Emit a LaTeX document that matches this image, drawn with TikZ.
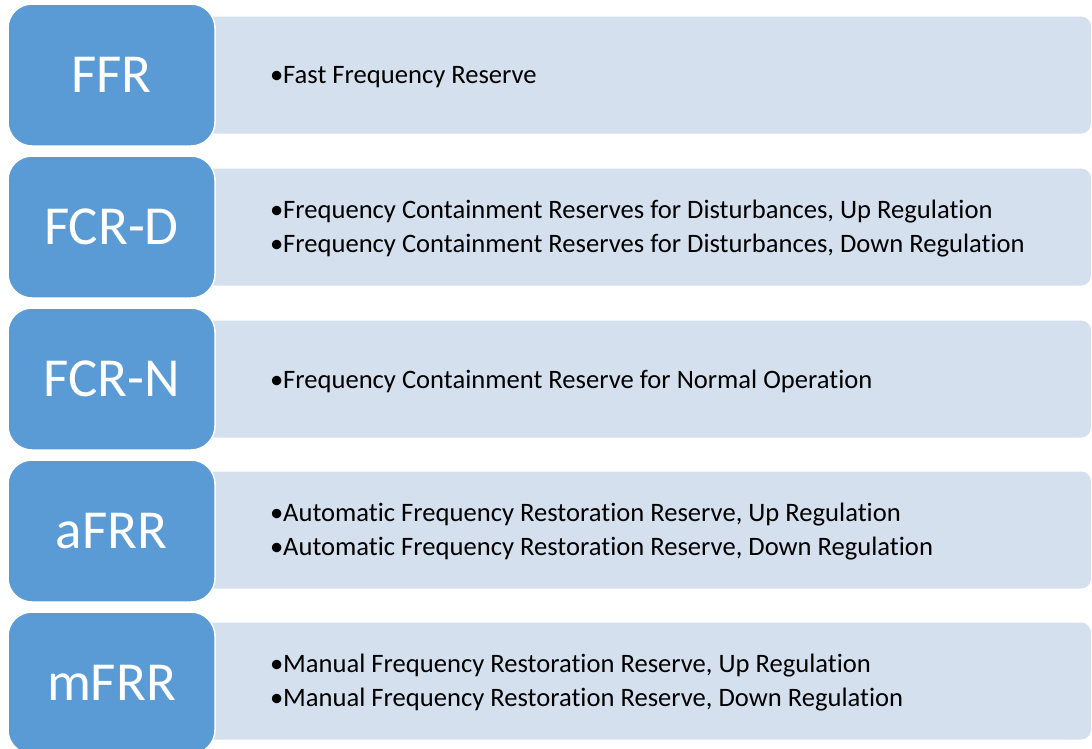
\documentclass[tikz,border=0pt]{standalone}
\usepackage{fontspec}
\setmainfont{Carlito}[RawFeature=-liga]
\usepackage{tikz}
\usetikzlibrary{positioning}
\usepackage{xcolor}
\definecolor{tagblue}{HTML}{5B9BD5}
\definecolor{bandblue}{HTML}{D5E0EE}
\newcommand{\itm}{\makebox[13pt][l]{•}}

\begin{document}
\begin{tikzpicture}[x=1pt,y=-1pt,
  tag/.style={draw=white,line width=1.5pt,fill=tagblue,rounded corners=24pt,
    minimum width=207pt,minimum height=142pt,outer sep=0pt,text=white,
    font=\fontsize{55}{60}\selectfont},
  band/.style={fill=bandblue,rounded corners=10pt,minimum width=941pt,
    minimum height=117pt,anchor=west,outer sep=0pt},
  items/.style={anchor=west,align=left,inner sep=0pt,yshift=-2pt,
    font=\fontsize{26.6}{34}\selectfont}]
\useasboundingbox (0,0) rectangle (1092,748);
\clip (0,0) rectangle (1092,748);
% bands behind the tags
\node[band] (ffrb) at (150,75) {};
\node[band] (fcrdb) at (150,227) {};
\node[band] (fcrnb) at (150,379) {};
\node[band] (afrrb) at (150,530) {};
\node[band] (mfrrb) at (150,681) {};
% tags
\node[tag] (ffr) at (111.5,75) {FFR};
\node[tag,below=10pt of ffr] (fcrd) {FCR-D};
\node[tag,below=10pt of fcrd] (fcrn) {FCR-N};
\node[tag,below=10pt of fcrn] (afrr) {aFRR};
\node[tag,below=10pt of afrr] (mfrr) {mFRR};
% descriptions
\node[items,right=120pt of ffrb.west] (ffrt) {\itm Fast Frequency Reserve};
\node[items,right=120pt of fcrdb.west] (fcrdt) {\itm Frequency Containment Reserves for Disturbances, Up Regulation\\
  \itm Frequency Containment Reserves for Disturbances, Down Regulation};
\node[items,right=120pt of fcrnb.west] (fcrnt) {\itm Frequency Containment Reserve for Normal Operation};
\node[items,right=120pt of afrrb.west] (afrrt) {\itm Automatic Frequency Restoration Reserve, Up Regulation\\
  \itm Automatic Frequency Restoration Reserve, Down Regulation};
\node[items,right=120pt of mfrrb.west] (mfrrt) {\itm Manual Frequency Restoration Reserve, Up Regulation\\
  \itm Manual Frequency Restoration Reserve, Down Regulation};
\end{tikzpicture}
\end{document}
